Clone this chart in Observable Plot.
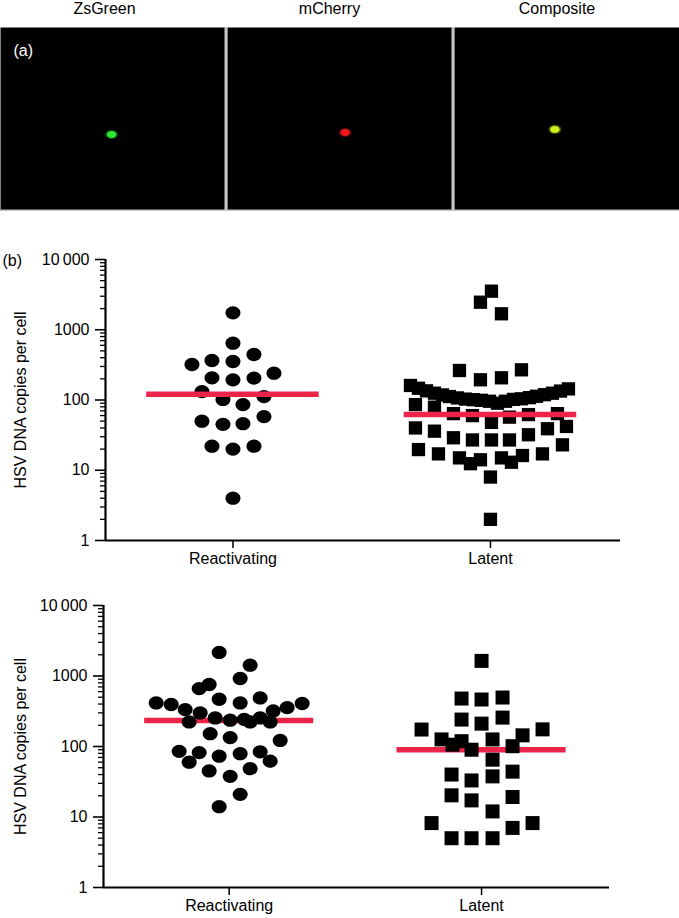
<!DOCTYPE html>
<html>
<head>
<meta charset="utf-8">
<script src="https://cdn.jsdelivr.net/npm/d3@7"></script>
<script src="https://cdn.jsdelivr.net/npm/@observablehq/plot@0.6"></script>
<style>
  html, body { margin: 0; padding: 0; background: #fff; }
  body { width: 679px; font-family: "Liberation Sans", Arial, Helvetica, sans-serif; }
  #panelA { position: relative; width: 679px; height: 212px; }
  #panelA .edge { position: absolute; left: 0; top: 27px; width: 679px; height: 184px; background: #c6c6c6; }
  #panelA .row { position: absolute; left: 0; top: 0; display: flex; gap: 3px; }
  #b1, #b2 { width: 679px; }
</style>
</head>
<body>
<div id="panelA"><div class="edge"></div><div class="row" id="imgs"></div></div>
<div id="b1"></div>
<div id="b2"></div>
<script>
// ---------- DATA ----------
// Panel (a): fluorescence images, one labelled cell in each
const imageChannels = ["ZsGreen", "mCherry", "Composite"];
const cellX = [0.496, 0.525, 0.446];   // cell position within image (fraction of width)
const cellY = [0.588, 0.577, 0.560];   // cell position within image (fraction of height, from top)

// Panel (b): groups
const groups = ["Reactivating", "Latent"];
const yTicks = [1, 10, 100, 1000, 10000];

// Upper plot – Reactivating (circles): copies per cell and swarm column
const b1ReactCopies = [1742, 644, 320, 365, 353, 444, 241, 207, 194, 205, 132, 112, 102, 86, 58, 50, 45, 46, 22, 20, 22, 4];
const b1ReactSlot   = [0, 0, -4.1, -2.1, 0, 2.1, 4.1, -2.1, 0, 2.1, -3.1, 3.1, -1.0, 1.0, 3.1, -3.1, -1.0, 1.0, -2.1, 0, 2.1, 0];

// Upper plot – Latent (squares)
const b1LatCopies = [3540, 2466, 1687, 263, 194, 207, 269,
  161, 147, 135, 125, 118, 112, 107, 103, 101, 99, 96, 90, 96, 102, 104, 108, 113, 119, 125, 134, 144,
  86, 79, 64, 60, 48, 57, 62, 64,
  40, 36, 29, 27, 27, 27, 32, 39, 42,
  19.7, 17.1, 15, 12.4, 14.1, 15, 13, 16.2, 17.1, 23,
  8, 2];
const b1LatSlot = [0.1, -1.0, 1.1, -3.1, -1.0, 1.1, 3.1,
  -8.0, -7.2, -6.4, -5.6, -4.8, -4.1, -3.3, -2.5, -1.7, -0.9, -0.1, 0.7, 1.5, 2.3, 3.1, 3.9, 4.6, 5.4, 6.2, 7.0, 7.8,
  -7.5, -5.6, -3.7, -1.8, 0.1, 1.9, 3.8, 6.7,
  -7.5, -5.6, -3.7, -1.8, 0.1, 1.9, 3.8, 5.7, 7.6,
  -7.2, -5.2, -3.1, -2.0, -1.0, 1.1, 2.1, 3.2, 5.2, 7.2,
  0, 0];

// Lower plot – Reactivating (circles)
const b2ReactCopies = [2158, 1422, 921, 664, 757, 468, 415, 489, 415, 394, 334, 299, 223, 254, 236, 243, 223, 254, 223, 320, 357, 407,
  152, 134, 122, 85.5, 60, 82, 73, 79, 84, 62, 45, 48.5, 37.7, 21, 14];
const b2ReactSlot = [-1.0, 2.1, 1.1, -3.0, -2.0, -1.0, 1.1, 3.1, -7.3, -5.8, -4.4, -2.9, -4.0, -1.4, 0.1, 1.5, 2.1, 3.1, 4.1, 4.4, 5.8, 7.3,
  -1.9, 0.1, 5.1, -5.0, -4.0, -3.0, -1.0, 1.1, 3.1, 4.1, -2.0, 2.1, 0.1, 1.1, -1.0];

// Lower plot – Latent (squares)
const b2LatCopies = [1638, 479, 464, 495, 241, 211, 257,
  174, 126, 106, 119, 90, 126, 101, 144, 175,
  65, 40, 33, 37.7, 44, 20.3, 17.2, 19.2, 12,
  8.2, 5, 5, 5, 7, 8.2];
const b2LatSlot = [0, -2.0, 0, 2.1, -2.0, 0, 2.1,
  -6.0, -4.0, -2.9, -2.0, -1.0, 1.1, 3.1, 4.1, 6.1,
  1.1, -3.0, -1.0, 1.1, 3.1, -3.0, -1.0, 3.1, 1.1,
  -5.0, -3.0, -1.0, 1.1, 3.1, 5.1];

// Median lines as drawn (Reactivating, Latent)
const b1Medians = [121, 62];
const b2Medians = [233, 90];

// ---------- STYLE ----------
const FONT = '"Liberation Sans", Arial, Helvetica, sans-serif';
const cellColors = ["#30e634", "#f2141c", "#d4f01e"];
const medianColor = "#ec2449";

// ellipse symbol (slightly wider than tall, like the original markers)
function ellipseSymbol(kx, ky) {
  return {
    draw(ctx, size) {
      const r = Math.sqrt(size / Math.PI);
      const rx = r * kx, ry = r * ky, k = 0.5523;
      ctx.moveTo(rx, 0);
      ctx.bezierCurveTo(rx, k * ry, k * rx, ry, 0, ry);
      ctx.bezierCurveTo(-k * rx, ry, -rx, k * ry, -rx, 0);
      ctx.bezierCurveTo(-rx, -k * ry, -k * rx, -ry, 0, -ry);
      ctx.bezierCurveTo(k * rx, -ry, rx, -k * ry, rx, 0);
      ctx.closePath();
    }
  };
}

// ---------- PANEL (a) ----------
const imgWidths = [224, 224, 225];
const titleDx = [-8, -10, -10];
imageChannels.forEach((name, i) => {
  const p = Plot.plot({
    width: imgWidths[i], height: 209,
    marginTop: 27, marginBottom: 0, marginLeft: 0, marginRight: 0,
    style: { fontFamily: FONT, fontSize: "16px", color: "black", background: "white", overflow: "visible" },
    x: { domain: [0, 1], axis: null },
    y: { domain: [0, 1], reverse: true, axis: null },
    marks: [
      Plot.frame({ fill: "black", stroke: null }),
      Plot.text([name], { text: d => d, frameAnchor: "top", dx: titleDx[i], dy: -14, lineAnchor: "bottom", fontSize: 16, fill: "black" }),
      i === 0 ? Plot.text(["(a)"], { text: d => d, frameAnchor: "top-left", dx: 13, dy: 23, lineAnchor: "middle", textAnchor: "start", fontSize: 16, fill: "white" }) : null,
      Plot.dot([i], { x: j => cellX[j], y: j => cellY[j], r: 5.4, fill: cellColors[i], fillOpacity: 0.3, symbol: ellipseSymbol(1.2, 0.85) }),
      Plot.dot([i], { x: j => cellX[j], y: j => cellY[j], r: 4, fill: cellColors[i], symbol: ellipseSymbol(1.2, 0.85) })
    ]
  });
  document.getElementById("imgs").appendChild(p);
});

// ---------- PANEL (b) ----------
const minorTicks = [];
for (let e = 0; e < 4; e++) for (let m = 2; m <= 9; m++) minorTicks.push(m * Math.pow(10, e));

function rows(copies, slots, g) {
  return copies.map((v, i) => ({ group: g, value: v, slot: slots[i] }));
}

function dotPlot(opts) {
  const { height, marginTop, marginBottom, marginLeft, marginRight, xDomain,
          react, lat, medians, circleR, squareR, medianOnTop, showB } = opts;
  const width = 679;
  const unitPx = (width - marginLeft - marginRight) / (xDomain[1] - xDomain[0]);
  const slotPx = 10;
  const xOf = d => d.group + d.slot * slotPx / unitPx;
  const medianMark = Plot.ruleY(groups, {
    y: (g, i) => medians[i], x1: (g, i) => i - 0.335, x2: (g, i) => i + 0.335,
    stroke: medianColor, strokeWidth: 5.5
  });
  const dots = [
    Plot.dot(react, { x: xOf, y: "value", r: circleR, fill: "black", symbol: ellipseSymbol(1.07, 0.95) }),
    Plot.dot(lat, { x: xOf, y: "value", r: squareR, fill: "black", symbol: "square" })
  ];
  return Plot.plot({
    width, height, marginTop, marginBottom, marginLeft, marginRight,
    style: { fontFamily: FONT, fontSize: "16px", color: "black", background: "white", overflow: "visible" },
    x: { domain: xDomain },
    y: { type: "log", domain: [1, 10000] },
    marks: [
      ...(medianOnTop ? [...dots, medianMark] : [medianMark, ...dots]),
      Plot.axisY(minorTicks, { tickSize: 5, tickFormat: () => "", strokeWidth: 1.3, label: null }),
      Plot.axisY(yTicks, { tickSize: 10, tickPadding: 6, strokeWidth: 1.6, fontSize: 16, label: null,
        tickFormat: d => d === 10000 ? "10\u2009000" : String(d) }),
      Plot.axisX([0, 1], { tickSize: 8, tickPadding: 4, strokeWidth: 1.5, fontSize: 16, label: null,
        tickFormat: i => groups[i] }),
      Plot.ruleX([xDomain[0]], { strokeWidth: 2.2 }),
      Plot.ruleY([1], { strokeWidth: 2.2 }),
      Plot.text(["HSV DNA copies per cell"], { text: d => d, frameAnchor: "left", dx: -(marginLeft - 20), rotate: -90,
        textAnchor: "middle", lineAnchor: "middle", fontSize: 16 }),
      showB ? Plot.text(["(b)"], { text: d => d, frameAnchor: "top-left", dx: -(marginLeft - 2), dy: 1,
        textAnchor: "start", lineAnchor: "middle", fontSize: 16 }) : null
    ]
  });
}

document.getElementById("b1").appendChild(dotPlot({
  height: 360, marginTop: 47, marginBottom: 32, marginLeft: 105, marginRight: 59,
  xDomain: [-0.495, 1.505],
  react: rows(b1ReactCopies, b1ReactSlot, 0), lat: rows(b1LatCopies, b1LatSlot, 1), medians: b1Medians,
  circleR: 7, squareR: 7.5, medianOnTop: true, showB: true
}));

document.getElementById("b2").appendChild(dotPlot({
  height: 346, marginTop: 33, marginBottom: 31, marginLeft: 103, marginRight: 70,
  xDomain: [-0.498, 1.507],
  react: rows(b2ReactCopies, b2ReactSlot, 0), lat: rows(b2LatCopies, b2LatSlot, 1), medians: b2Medians,
  circleR: 7, squareR: 7.9, medianOnTop: false, showB: false
}));
</script>
</body>
</html>
